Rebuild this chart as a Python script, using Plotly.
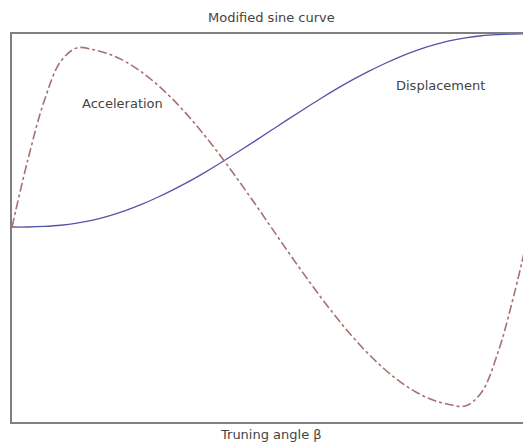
import plotly.graph_objects as go

# Turning angle (normalised, 0..1), sampled every 1/32
beta = [k / 32 for k in range(33)]

# Displacement (normalised 0..1)
displacement = [0.000, 0.000, 0.003, 0.009, 0.020, 0.036, 0.058, 0.085, 0.117,
                0.154, 0.195, 0.239, 0.287, 0.338, 0.391, 0.445, 0.500, 0.555,
                0.609, 0.662, 0.713, 0.761, 0.805, 0.846, 0.883, 0.915, 0.942,
                0.964, 0.980, 0.991, 0.997, 1.000, 1.000]

# Acceleration (normalised to peak 1)
acceleration = [0.000, 0.383, 0.707, 0.924, 1.000, 0.991, 0.966, 0.924, 0.866,
                0.793, 0.707, 0.609, 0.500, 0.383, 0.259, 0.131, 0.000, -0.131,
                -0.259, -0.383, -0.500, -0.609, -0.707, -0.793, -0.866, -0.924,
                -0.966, -0.991, -1.000, -0.924, -0.707, -0.383, 0.000]

title_text = "Modified sine curve"
xlabel_text = "Truning angle β"
label_acc = "Acceleration"
label_disp = "Displacement"

font = dict(family="DejaVu Sans, Arial, sans-serif", size=13, color="#444444")

fig = go.Figure()
fig.add_trace(go.Scatter(x=beta, y=displacement, mode="lines",
                         line=dict(color="#5454a8", width=1.3, shape="spline"),
                         yaxis="y", hoverinfo="skip", showlegend=False))
fig.add_trace(go.Scatter(x=beta, y=acceleration, mode="lines",
                         line=dict(color="#a87070", width=1.6, dash="dashdot", shape="spline"),
                         yaxis="y2", hoverinfo="skip", showlegend=False))

fig.update_layout(
    width=523, height=445,
    margin=dict(l=12, r=0, t=34, b=23),
    paper_bgcolor="white", plot_bgcolor="white",
    xaxis=dict(range=[0, 0.9865], showgrid=False, zeroline=False, showticklabels=False,
               ticks="", showline=True, linecolor="#808080", linewidth=2, mirror=True),
    yaxis=dict(range=[-1.0104, 1.0], showgrid=False, zeroline=False, showticklabels=False,
               ticks="", showline=True, linecolor="#808080", linewidth=2, mirror=False),
    yaxis2=dict(range=[-1.089, 1.078], overlaying="y", showgrid=False, zeroline=False,
                showticklabels=False, ticks="", showline=False),
    annotations=[
        dict(text=title_text, x=0.5069, y=1.0438, xref="paper", yref="paper",
             showarrow=False, font=font, xanchor="center", yanchor="middle"),
        dict(text=xlabel_text, x=0.5069, y=-0.0335, xref="paper", yref="paper",
             showarrow=False, font=font, xanchor="center", yanchor="middle"),
        dict(text=label_acc, x=0.2172, y=0.822, xref="paper", yref="paper",
             showarrow=False, font=font, xanchor="center", yanchor="middle"),
        dict(text=label_disp, x=0.8376, y=0.866, xref="paper", yref="paper",
             showarrow=False, font=font, xanchor="center", yanchor="middle"),
    ],
)

fig.write_html(
    "out.html",
    config={"displayModeBar": False},
    post_script="document.body.style.margin='0';document.body.style.padding='0';"
                "document.documentElement.style.overflow='hidden';",
)
